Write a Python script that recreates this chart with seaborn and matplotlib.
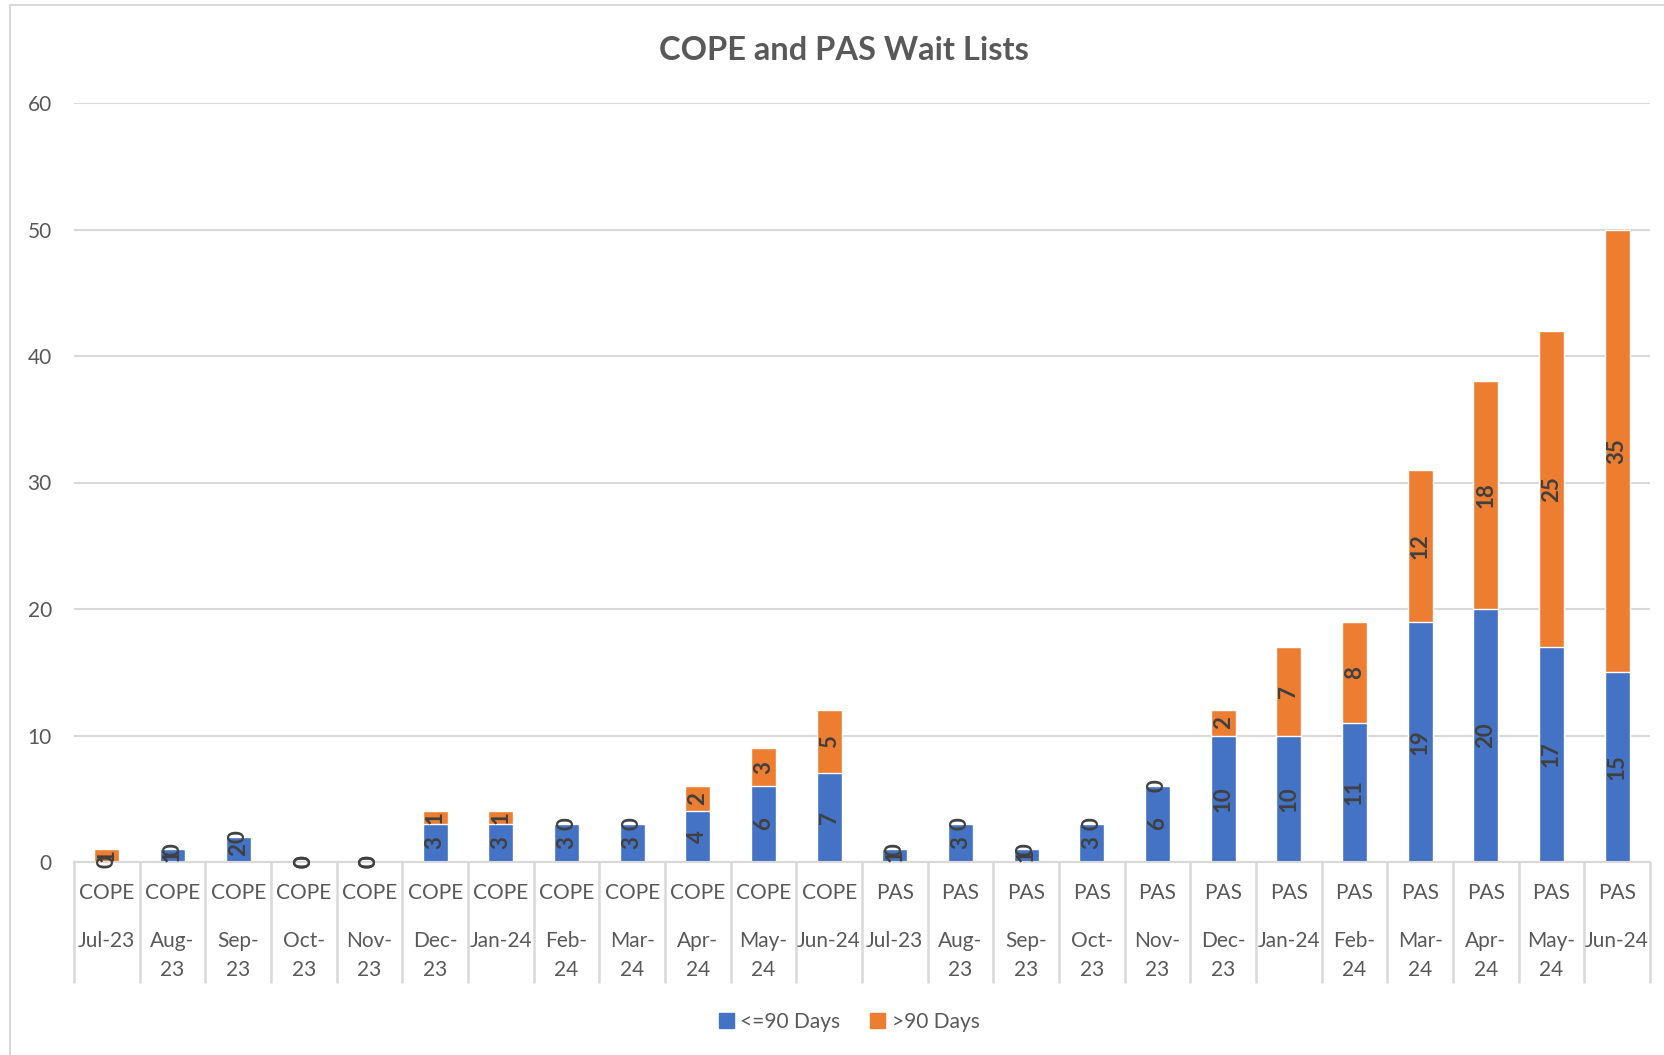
import numpy as np
import pandas as pd
import matplotlib
matplotlib.use("Agg")
import matplotlib.pyplot as plt
import matplotlib.transforms as mtransforms
from matplotlib.patches import Patch, Rectangle
import seaborn as sns

sns.set_style("white")
plt.rcParams["font.family"] = ["Lato", "DejaVu Sans"]

# data
programs = ["COPE"] * 12 + ["PAS"] * 12
months = ["Jul-23", "Aug-\n23", "Sep-\n23", "Oct-\n23", "Nov-\n23", "Dec-\n23",
          "Jan-24", "Feb-\n24", "Mar-\n24", "Apr-\n24", "May-\n24", "Jun-24"] * 2
within_90 = [0, 1, 2, 0, 0, 3, 3, 3, 3, 4, 6, 7,
             1, 3, 1, 3, 6, 10, 10, 11, 19, 20, 17, 15]
over_90 = [1, 0, 0, 0, 0, 1, 1, 0, 0, 2, 3, 5,
           0, 0, 0, 0, 0, 2, 7, 8, 12, 18, 25, 35]
series_names = ["<=90 Days", ">90 Days"]

BLUE = "#4472C4"
ORANGE = "#ED7D31"
GRID = "#D9D9D9"
TXT = "#595959"

df = pd.DataFrame({
    "key": [p + " " + m for p, m in zip(programs, months)],
    "le90": within_90,
    "gt90": over_90,
})
df["total"] = df["le90"] + df["gt90"]

W, H = 1664, 1055
fig = plt.figure(figsize=(W / 100, H / 100), dpi=100)
ax = fig.add_axes([74 / W, 1 - 862 / H, (1650 - 74) / W, (862 - 103) / H])

# stacked: totals in orange, blue drawn over it
sns.barplot(data=df, x="key", y="total", color=ORANGE, saturation=1, width=0.38, ax=ax)
sns.barplot(data=df, x="key", y="le90", color=BLUE, saturation=1, width=0.38, ax=ax)

n = len(df)
ax.set_xlim(-0.5, n - 0.5)
ax.set_ylim(0, 60)
ax.set_yticks(range(0, 61, 10))
ax.yaxis.grid(True, color=GRID, lw=1.5)
ax.set_axisbelow(True)
for s in ["left", "right", "top"]:
    ax.spines[s].set_visible(False)
ax.spines["bottom"].set_color(GRID)
ax.spines["bottom"].set_linewidth(1.5)
ax.set_xlabel("")
ax.set_ylabel("")
ax.tick_params(axis="y", length=0, pad=16, labelsize=15, labelcolor=TXT)

# category separators
ax.set_xticks(np.arange(-0.5, n, 1))
ax.set_xticklabels([""] * (n + 1))
ax.tick_params(axis="x", bottom=True, direction="out", length=87, width=1.8, color=GRID)

# data labels
for i, (b, o) in enumerate(zip(within_90, over_90)):
    ax.text(i, b / 2, str(b), rotation=90, ha="center", va="center",
            fontsize=16, fontweight="bold", color="#404040")
    ax.text(i, b + o / 2, str(o), rotation=90, ha="center", va="center",
            fontsize=16, fontweight="bold", color="#404040")

# two-level category labels
base = ax.get_xaxis_transform()
def off(dy):
    return mtransforms.offset_copy(base, fig=fig, y=dy, units="dots")

for i in range(n):
    ax.text(i, 0, programs[i], transform=off(-31), ha="center", va="center",
            fontsize=15, color=TXT)
    for j, part in enumerate(months[i].split("\n")):
        ax.text(i, 0, part, transform=off(-79 - 29 * j), ha="center", va="center",
                fontsize=15, color=TXT)

fig.text(844 / W, 1 - 50 / H, "COPE and PAS Wait Lists", ha="center", va="center",
         fontsize=23.5, fontweight="bold", color=TXT)

handles = [Patch(color=BLUE, label=series_names[0]), Patch(color=ORANGE, label=series_names[1])]
fig.legend(handles=handles, loc="center", bbox_to_anchor=(849 / W, 1 - 1022 / H), ncol=2,
           frameon=False, handlelength=0.75, handleheight=0.75, handletextpad=0.3,
           columnspacing=1.4, fontsize=15, labelcolor=TXT)

fig.add_artist(Rectangle((10 / W, -0.1), 1.2, 1.1 - 5 / H, transform=fig.transFigure,
                         fill=False, edgecolor=GRID, lw=1.5))

fig.savefig("out.png", dpi=100)
